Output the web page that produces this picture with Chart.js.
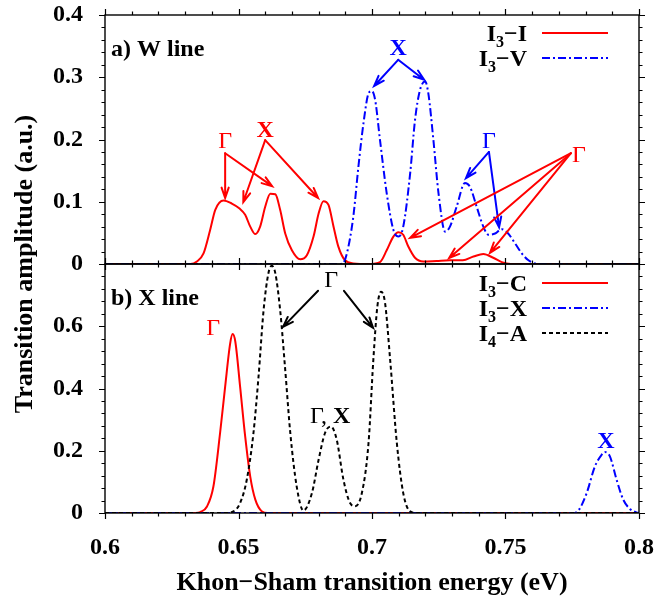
<!DOCTYPE html>
<html><head><meta charset="utf-8">
<script src="https://cdn.jsdelivr.net/npm/chart.js@4/dist/chart.umd.min.js"></script>
<style>
html,body{margin:0;padding:0;background:#fff;}
#wrap{position:relative;width:656px;height:596px;background:#fff;}
canvas{position:absolute;left:0;top:0;}
</style></head><body>
<div id="wrap"><canvas id="cTop" width="656" height="596"></canvas><canvas id="cBot" width="656" height="596"></canvas></div>
<script>
// ---------- DATA ----------
// Panel a) W line
const wI3I_energy = [0.600,0.632,0.6344,0.6369,0.6394,0.6413,0.6444,0.6475,0.6504,0.6525,0.6544,0.6563,0.6581,0.6600,0.6619,0.6638,0.6656,0.6675,0.6700,0.6731,0.6756,0.6781,0.6800,0.6818,0.6837,0.6856,0.6874,0.6899,0.6930,0.6990,0.7030,0.7055,0.7080,0.7099,0.7117,0.7136,0.7161,0.7192,0.7242,0.7292,0.7340,0.7380,0.7417,0.7454,0.7486,0.7520,0.800];
const wI3I_amp    = [0,0,0.004,0.017,0.055,0.087,0.102,0.097,0.089,0.079,0.060,0.048,0.060,0.092,0.113,0.112,0.087,0.049,0.022,0.0075,0.014,0.044,0.081,0.101,0.095,0.060,0.028,0.006,0.001,0,0.003,0.022,0.044,0.051,0.047,0.028,0.010,0.004,0.005,0.006,0.006,0.012,0.016,0.010,0.003,0,0];
const wI3V_energy = [0.600,0.688,0.6893,0.6906,0.6930,0.6949,0.6968,0.6987,0.6999,0.7012,0.7030,0.7055,0.7080,0.7099,0.7117,0.7143,0.7161,0.7180,0.7199,0.7211,0.7230,0.7249,0.7274,0.7292,0.7317,0.7348,0.7367,0.7392,0.7417,0.7436,0.7461,0.7486,0.7510,0.7536,0.7561,0.7586,0.7610,0.7640,0.800];
const wI3V_amp    = [0,0,0.002,0.017,0.076,0.156,0.226,0.274,0.278,0.263,0.199,0.114,0.055,0.044,0.060,0.146,0.231,0.280,0.293,0.274,0.199,0.114,0.052,0.060,0.092,0.130,0.124,0.092,0.060,0.047,0.049,0.056,0.049,0.033,0.017,0.006,0.001,0,0];
// Panel b) X line
const xI3C_energy = [0.600,0.634,0.6357,0.6382,0.6406,0.6431,0.6450,0.6469,0.6478,0.6488,0.6506,0.6525,0.6544,0.6563,0.6588,0.6610,0.800];
const xI3C_amp    = [0,0,0.003,0.021,0.085,0.257,0.406,0.546,0.575,0.551,0.406,0.246,0.117,0.043,0.005,0,0];
const xI3X_energy = [0.600,0.775,0.7773,0.7804,0.7835,0.7860,0.7872,0.7891,0.7916,0.7941,0.7966,0.7990,0.800];
const xI3X_amp    = [0,0,0.008,0.064,0.150,0.187,0.196,0.182,0.107,0.043,0.013,0.002,0];
const xI4A_energy = [0.600,0.645,0.6481,0.6506,0.6531,0.6556,0.6575,0.6594,0.6612,0.6625,0.6638,0.6656,0.6675,0.6694,0.6718,0.6743,0.6775,0.6800,0.6824,0.6846,0.6868,0.6893,0.6918,0.6937,0.6962,0.6987,0.7005,0.7020,0.7034,0.7049,0.7068,0.7093,0.7117,0.7143,0.7170,0.800];
const xI4A_amp    = [0,0,0.005,0.032,0.107,0.257,0.438,0.652,0.770,0.794,0.770,0.652,0.460,0.257,0.085,0.008,0.064,0.171,0.257,0.278,0.235,0.107,0.032,0.022,0.064,0.225,0.492,0.663,0.711,0.674,0.492,0.225,0.064,0.005,0,0];

// Tick labels
const xTicks = [0.6, 0.65, 0.7, 0.75, 0.8];
const yTicksTop = [0, 0.1, 0.2, 0.3, 0.4];
const yTicksBot = [0, 0.2, 0.4, 0.6];

// Series names (base, subscript, rest)
const namesTop = [['I','3','\u2212I'], ['I','3','\u2212V']];
const namesBot = [['I','3','\u2212C'], ['I','3','\u2212X'], ['I','4','\u2212A']];

// Annotations (data coordinates)
const annTop = [
  {t:'\u0393', x:0.6450, y:0.186, c:'#ff0000', bold:false,
   from:[0.6450,0.178], to:[[0.6450,0.106],[0.6626,0.125]]},
  {t:'X', x:0.6600, y:0.204, c:'#ff0000', bold:true,
   from:[0.6600,0.199], to:[[0.6518,0.0996],[0.6798,0.106]]},
  {t:'X', x:0.7098, y:0.336, c:'#0000ff', bold:true,
   from:[0.7098,0.328], to:[[0.7008,0.286],[0.7195,0.296]]},
  {t:'\u0393', x:0.7438, y:0.186, c:'#0000ff', bold:false,
   from:[0.7438,0.180], to:[[0.7352,0.138],[0.7476,0.059]]},
  {t:'\u0393', x:0.7775, y:0.164, c:'#ff0000', bold:false,
   from:[0.7745,0.178], to:[[0.7143,0.042],[0.7289,0.0096],[0.7442,0.018]]}
];
const annBot = [
  {t:'\u0393', x:0.6405, y:0.572, c:'#ff0000', bold:false},
  {t:'\u0393', x:0.6847, y:0.726, c:'#000000', bold:false,
   from:[0.6798,0.714], to:[[0.6667,0.598]]},
  {t:'', x:0, y:0, c:'#000000', from:[0.6895,0.714], to:[[0.7004,0.595]]},
  {t:'\u0393, X', x:0.6843, y:0.290, c:'#000000', mixed:true},
  {t:'X', x:0.7876, y:0.210, c:'#0000ff', bold:true}
];

// ---------- helpers ----------
const SERIF = '"Liberation Serif","Times New Roman",serif';
const RED = '#ff0000', BLUE = '#0000ff', BLACK = '#000000';
const pts = (xs, ys) => xs.map((x, i) => ({x, y: ys[i]}));

function lineDs(label, xs, ys, color, dash, order) {
  return {label, data: pts(xs, ys), borderColor: color, borderWidth: 2, borderDash: dash,
    pointRadius: 0, fill: false, cubicInterpolationMode: 'monotone', order};
}

function arrow(ctx, x1, y1, x2, y2, color) {
  const ang = Math.atan2(y2 - y1, x2 - x1), L = 11, w = 0.33;
  ctx.strokeStyle = color; ctx.lineWidth = 2; ctx.lineCap = 'round'; ctx.lineJoin = 'miter';
  ctx.beginPath();
  ctx.moveTo(x1, y1); ctx.lineTo(x2, y2);
  ctx.moveTo(x2 - L * Math.cos(ang - w), y2 - L * Math.sin(ang - w));
  ctx.lineTo(x2, y2);
  ctx.lineTo(x2 - L * Math.cos(ang + w), y2 - L * Math.sin(ang + w));
  ctx.stroke();
}

function drawFrame(chart, yMinor, perMajor) {
  const {ctx, chartArea: a, scales} = chart;
  const xs = scales.x, ys = scales.y;
  ctx.save();
  ctx.strokeStyle = '#000'; ctx.lineWidth = 1.4;
  ctx.strokeRect(a.left, a.top, a.right - a.left, a.bottom - a.top);
  ctx.beginPath();
  for (let i = 0; i <= 20; i++) {
    const px = Math.round(xs.getPixelForValue(0.6 + i * 0.01)) + 0.5;
    const len = i % 5 === 0 ? 6 : 3.5;
    ctx.moveTo(px, a.top); ctx.lineTo(px, a.top - len);
    ctx.moveTo(px, a.bottom); ctx.lineTo(px, a.bottom + len);
  }
  const n = Math.round((ys.max - ys.min) / yMinor);
  for (let i = 0; i <= n; i++) {
    const py = Math.round(ys.getPixelForValue(ys.min + i * yMinor)) + 0.5;
    const len = i % perMajor === 0 ? 6 : 3.5;
    ctx.moveTo(a.left, py); ctx.lineTo(a.left - len, py);
    ctx.moveTo(a.right, py); ctx.lineTo(a.right + len, py);
  }
  ctx.lineWidth = 1.2;
  ctx.stroke();
  ctx.restore();
}

function drawLegend(chart, names, y0) {
  const {ctx, chartArea: a} = chart;
  const dsets = chart.data.datasets;
  ctx.save();
  names.forEach((nm, i) => {
    const y = a.top + y0 + i * 25;
    const fMain = 'bold 24px ' + SERIF, fSub = 'bold 16px ' + SERIF;
    ctx.font = fMain; const w1 = ctx.measureText(nm[0]).width, w3 = ctx.measureText(nm[2]).width;
    ctx.font = fSub; const w2 = ctx.measureText(nm[1]).width;
    const right = a.right - 112;
    let x = right - (w1 + w2 + w3);
    const base = y + 8;
    ctx.fillStyle = '#000'; ctx.textAlign = 'left'; ctx.textBaseline = 'alphabetic';
    ctx.font = fMain; ctx.fillText(nm[0], x, base); x += w1;
    ctx.font = fSub; ctx.fillText(nm[1], x, base + 6); x += w2;
    ctx.font = fMain; ctx.fillText(nm[2], x, base);
    const ds = dsets[i];
    ctx.strokeStyle = ds.borderColor; ctx.lineWidth = 2; ctx.setLineDash(ds.borderDash || []);
    ctx.beginPath(); ctx.moveTo(a.right - 97, y); ctx.lineTo(a.right - 31, y); ctx.stroke();
    ctx.setLineDash([]);
  });
  ctx.restore();
}

function drawAnn(chart, anns) {
  const {ctx, scales} = chart;
  const X = v => scales.x.getPixelForValue(v), Y = v => scales.y.getPixelForValue(v);
  ctx.save();
  ctx.textAlign = 'center'; ctx.textBaseline = 'alphabetic';
  anns.forEach(an => {
    if (an.t) {
      ctx.fillStyle = an.c;
      if (an.mixed) {
        ctx.font = '24px ' + SERIF; const wa = ctx.measureText('\u0393, ').width;
        ctx.font = 'bold 24px ' + SERIF; const wb = ctx.measureText('X').width;
        let x = X(an.x) - (wa + wb) / 2;
        ctx.textAlign = 'left';
        ctx.font = '24px ' + SERIF; ctx.fillText('\u0393, ', x, Y(an.y));
        ctx.font = 'bold 24px ' + SERIF; ctx.fillText('X', x + wa, Y(an.y));
        ctx.textAlign = 'center';
      } else {
        ctx.font = (an.bold ? 'bold ' : '') + '24px ' + SERIF;
        ctx.fillText(an.t, X(an.x), Y(an.y));
      }
    }
    if (an.from) an.to.forEach(t => arrow(ctx, X(an.from[0]), Y(an.from[1]), X(t[0]), Y(t[1]), an.c));
  });
  ctx.restore();
}

function panelLabel(chart, text, dy) {
  const {ctx, chartArea: a} = chart;
  ctx.save();
  ctx.font = 'bold 24px ' + SERIF; ctx.fillStyle = '#000';
  ctx.textAlign = 'left'; ctx.textBaseline = 'alphabetic';
  ctx.fillText(text, a.left + 6, a.top + dy);
  ctx.restore();
}

const tickFont = {family: SERIF, size: 24, weight: 'bold'};

function yScale(max, ticks) {
  return {
    type: 'linear', min: 0, max,
    grid: {display: false, drawTicks: false}, border: {display: false},
    afterBuildTicks: s => { s.ticks = ticks.map(v => ({value: v})); },
    ticks: {font: tickFont, color: '#000', padding: 22, callback: v => String(+v.toFixed(2))},
    afterFit: s => { s.width = 105; s.paddingTop = 0; s.paddingBottom = 0; }
  };
}

// ---------- top chart ----------
new Chart(document.getElementById('cTop'), {
  type: 'line',
  data: {datasets: [
    lineDs('I3-I', wI3I_energy, wI3I_amp, RED, [], 2),
    lineDs('I3-V', wI3V_energy, wI3V_amp, BLUE, [8, 3, 2, 3], 1)
  ]},
  options: {
    responsive: false, animation: false, devicePixelRatio: 1,
    layout: {padding: {left: 0, top: 15, right: 17, bottom: 332}},
    plugins: {legend: {display: false}, tooltip: {enabled: false}},
    scales: {
      x: {type: 'linear', min: 0.6, max: 0.8, display: false},
      y: yScale(0.4, yTicksTop)
    }
  },
  plugins: [{id: 'deco', afterDraw(chart) {
    drawFrame(chart, 0.02, 5);
    drawLegend(chart, namesTop, 18);
    drawAnn(chart, annTop);
    panelLabel(chart, 'a) W line', 41);
  }}]
});

// ---------- bottom chart ----------
new Chart(document.getElementById('cBot'), {
  type: 'line',
  data: {datasets: [
    lineDs('I3-C', xI3C_energy, xI3C_amp, RED, [], 3),
    lineDs('I3-X', xI3X_energy, xI3X_amp, BLUE, [8, 3, 2, 3], 2),
    lineDs('I4-A', xI4A_energy, xI4A_amp, BLACK, [4, 3], 1)
  ]},
  options: {
    responsive: false, animation: false, devicePixelRatio: 1,
    layout: {padding: {left: 0, top: 264, right: 17, bottom: 0}},
    plugins: {legend: {display: false}, tooltip: {enabled: false}},
    scales: {
      x: {
        type: 'linear', min: 0.6, max: 0.8,
        grid: {display: false, drawTicks: false}, border: {display: false},
        afterBuildTicks: s => { s.ticks = xTicks.map(v => ({value: v})); },
        ticks: {font: tickFont, color: '#000', padding: 20, maxRotation: 0, autoSkip: false,
                callback: v => String(+v.toFixed(2))},
        title: {display: true, text: 'Khon\u2212Sham transition energy (eV)', color: '#000',
                font: {family: SERIF, size: 26, weight: 'bold', lineHeight: 1}, padding: {top: 0, bottom: 0}},
        afterFit: s => { s.height = 83; s.paddingLeft = 0; s.paddingRight = 0; }
      },
      y: yScale(0.8, yTicksBot)
    }
  },
  plugins: [{id: 'deco', afterDraw(chart) {
    drawFrame(chart, 0.04, 5);
    drawLegend(chart, namesBot, 19);
    drawAnn(chart, annBot);
    panelLabel(chart, 'b) X line', 41);
    const {ctx, chartArea: a} = chart;
    ctx.save();
    ctx.translate(25, a.top);
    ctx.rotate(-Math.PI / 2);
    ctx.font = 'bold 26px ' + SERIF; ctx.fillStyle = '#000';
    ctx.textAlign = 'center'; ctx.textBaseline = 'middle';
    ctx.fillText('Transition amplitude (a.u.)', 0, 0);
    ctx.restore();
  }}]
});
</script>
</body></html>
